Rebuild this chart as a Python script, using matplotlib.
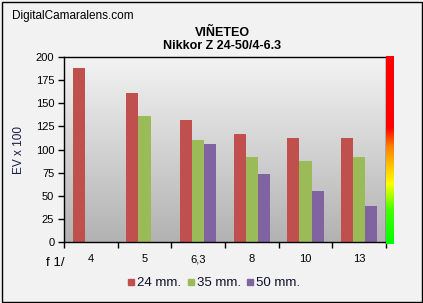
import numpy as np
import matplotlib
matplotlib.use("Agg")
import matplotlib.pyplot as plt
from matplotlib.colors import LinearSegmentedColormap
from matplotlib.patches import Rectangle
from matplotlib.lines import Line2D

plt.rcParams['font.family'] = ['Liberation Sans', 'DejaVu Sans']

apertures = ["4", "5", "6,3", "8", "10", "13"]
series_names = ["24 mm.", "35 mm.", "50 mm."]
v24 = [188, 161, 132, 117, 112, 112]
v35 = [np.nan, 136, 110, 92, 88, 92]
v50 = [np.nan, np.nan, 106, 74, 55, 39]
colors = ["#c0504d", "#9bbb59", "#8064a2"]

W, H = 423, 303
fig = plt.figure(figsize=(W / 100, H / 100), dpi=100, facecolor="#f2f2f2")
ax = fig.add_axes([64 / W, 1 - 242 / H, 322 / W, 185 / H])

# grey gradient plot background
grad = np.linspace(0, 1, 256).reshape(-1, 1)
bg = LinearSegmentedColormap.from_list("bg", ["#b2b2b2", "#f3f3f3"])
ax.imshow(grad, cmap=bg, aspect="auto", extent=[-0.5, 5.5, 200, 0], zorder=0)

x = np.arange(len(apertures))
w = 0.225
for i, (vals, c) in enumerate(zip([v24, v35, v50], colors)):
    ax.bar(x + (i - 1) * w, vals, width=w, color=c, zorder=2)

ax.set_xlim(-0.5, 5.5)
ax.set_ylim(0, 200)
ax.set_yticks(range(0, 201, 25))
ax.set_xticks(np.arange(-0.5, 5.6, 1))
ax.set_xticklabels([])
ax.set_xticks(x, minor=True)
ax.set_xticklabels(apertures, minor=True, fontsize=8)
ax.tick_params(axis="x", which="minor", length=0, pad=9)
ax.tick_params(axis="x", which="major", length=4, direction="out", width=1)
ax.tick_params(axis="y", length=4, labelsize=8, width=1, pad=3)
for s in ax.spines.values():
    s.set_linewidth(1)
ax.set_ylabel("EV x 100", fontsize=8.5, color="#1a1a4a", labelpad=8)

fig.text(46 / W, 1 - 263 / H, "f 1/", fontsize=9.5, ha="left", va="center")

# colour bar at the right
cax = fig.add_axes([386 / W, 1 - 244 / H, 8 / W, 188 / H])
cm = LinearSegmentedColormap.from_list(
    "rg", [(0, "#00ff00"), (0.18, "#44ff00"), (0.32, "#ffff00"),
           (0.52, "#ff8000"), (0.62, "#ff0000"), (1, "#ff0000")])
cax.imshow(grad, cmap=cm, aspect="auto", origin="lower")
cax.set_axis_off()

fig.text(12 / W, 1 - 16 / H, "DigitalCamaralens.com", fontsize=8.5, ha="left", va="center")
fig.text(222 / W, 1 - 33 / H, "VIÑETEO", fontsize=9, fontweight="bold", ha="center", va="center")
fig.text(222 / W, 1 - 46 / H, "Nikkor Z 24-50/4-6.3", fontsize=9, fontweight="bold", ha="center", va="center")

handles = [Line2D([], [], marker="s", ls="", color=c, markersize=4.5) for c in colors]
leg = fig.legend(handles, series_names, loc="center", bbox_to_anchor=(213 / W, 1 - 283 / H),
                 ncol=3, frameon=False, fontsize=9.5, handletextpad=0.05, columnspacing=0.3,
                 handlelength=0.8)
for t in leg.get_texts():
    t.set_color("#10102a")

fig.patches.append(Rectangle((1.5 / W, 1.5 / H), 1 - 3 / W, 1 - 3 / H, transform=fig.transFigure,
                             fill=False, edgecolor="black", linewidth=1))

fig.savefig("out.png", dpi=100, facecolor=fig.get_facecolor())
